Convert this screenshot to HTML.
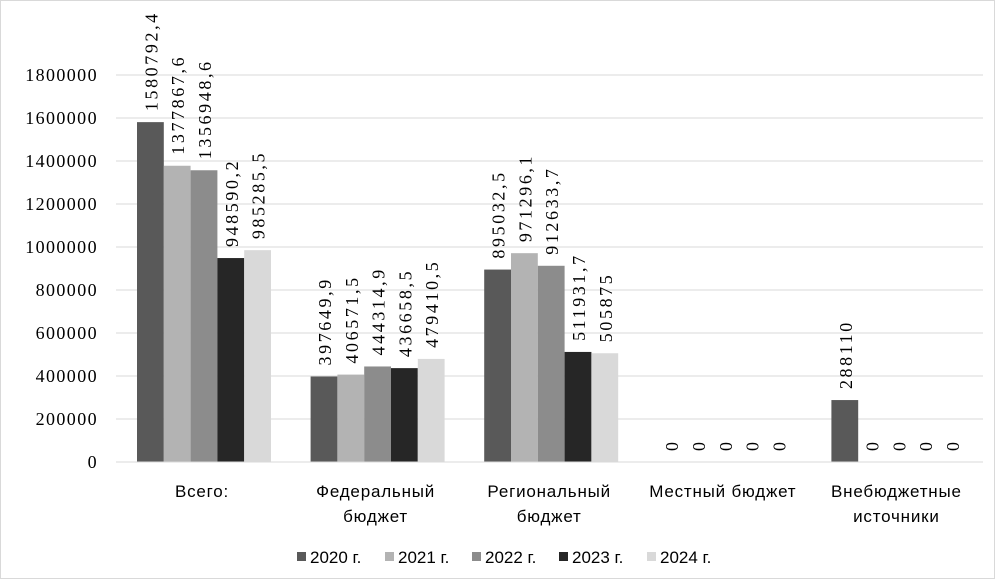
<!DOCTYPE html>
<html><head><meta charset="utf-8"><style>
body{margin:0;background:#fff}
svg{display:block;font-family:"Liberation Serif","DejaVu Serif",serif}
.sn{font-family:"Liberation Sans","DejaVu Sans",sans-serif}
</style></head><body>
<svg id="s" width="995" height="579" xmlns="http://www.w3.org/2000/svg">
<rect x="0.5" y="0.5" width="994" height="578" fill="#fff" stroke="#d9d9d9"/>
</svg>
<script>
const s=document.getElementById('s');let h='';
const y0=462,k=387/1800000;
for(let i=0;i<=9;i++){const y=y0-i*43;
 h+=`<line x1="116" x2="983" y1="${y}" y2="${y}" stroke="#d9d9d9"/>`;
 const t=String(i*200000);
 h+=`<text x="98" y="${y+6}" font-size="18" text-anchor="end" letter-spacing="1.4" fill="#000">${t}</text>`;}
const cols=['#595959','#b3b3b3','#8c8c8c','#262626','#d9d9d9'];
const data=[[1580792.4,1377867.6,1356948.6,948590.2,985285.5],[397649.9,406571.5,444314.9,436658.5,479410.5],[895032.5,971296.1,912633.7,511931.7,505875],[0,0,0,0,0],[288110,0,0,0,0]];
const cats=[['Всего:'],['Федеральный','бюджет'],['Региональный','бюджет'],['Местный бюджет'],['Внебюджетные','источники']];
const bw=26.8;
data.forEach((g,c)=>{const cx=204+c*173.6;const x0=cx-2.5*bw;
 g.forEach((v,j)=>{const hgt=v*k,x=x0+j*bw,top=y0-hgt;
  h+=`<rect x="${x}" y="${top}" width="${bw}" height="${hgt}" fill="${cols[j]}"/>`;
  const lbl=v===0?'0':String(v).replace('.',',');
  const tx=x+bw/2+7,ty=top-11;
  h+=`<text transform="translate(${tx},${ty}) rotate(-90)" font-size="18" letter-spacing="2.6" fill="#000">${lbl}</text>`;});
 cats[c].forEach((t,l)=>{h+=`<text class="sn" x="${cx-2}" y="${497+l*25}" font-size="17" letter-spacing="0.8" text-anchor="middle" fill="#000">${t}</text>`;});
});
h+=`<line x1="116" x2="983" y1="462" y2="462" stroke="#d9d9d9"/>`;
const lx=[297,385,472,559,647];
['2020 г.','2021 г.','2022 г.','2023 г.','2024 г.'].forEach((t,j)=>{
 h+=`<rect x="${lx[j]}" y="552" width="9" height="9" fill="${cols[j]}"/>`;
 h+=`<text class="sn" x="${lx[j]+13}" y="563" font-size="17" fill="#000">${t}</text>`;});
s.insertAdjacentHTML('beforeend',h);
</script>
</body></html>
